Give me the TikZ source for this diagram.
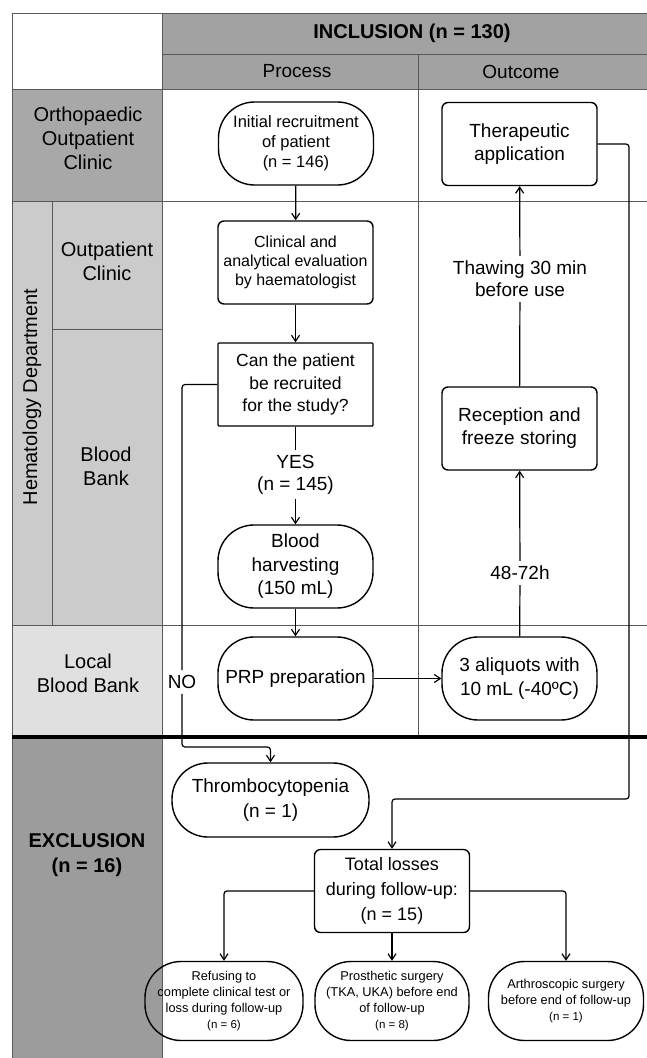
\documentclass[tikz,border=0pt]{standalone}
\usepackage{fontspec}
\setmainfont{Liberation Sans}
\usetikzlibrary{arrows.meta}

\definecolor{headgray}{HTML}{A2A2A2}
\definecolor{orthogray}{HTML}{A8A8A8}
\definecolor{hemagray}{HTML}{CBCBCB}
\definecolor{localgray}{HTML}{E0E0E0}
\definecolor{exclgray}{HTML}{9C9C9C}
\definecolor{gridgray}{HTML}{5A5A5A}

\newcommand{\fs}[2]{\fontsize{#1}{#2}\selectfont}

\begin{document}
\begin{tikzpicture}[x=1pt, y=-1pt,
    >={Straight Barb[length=6pt,width=8pt]},
    pill/.style = {draw, line width=1.4pt, rounded corners=36pt, minimum width=155pt,
                   minimum height=83pt, align=center, inner sep=2pt, font=\fs{19}{23.5}},
    card/.style = {draw, line width=1.4pt, rounded corners=6pt, minimum width=155pt,
                   minimum height=83pt, align=center, inner sep=2pt, font=\fs{19}{23}},
    note/.style = {align=center, inner sep=5pt, font=\fs{19}{22}},
    lane/.style = {align=center, font=\fs{20}{24}},
    grid/.style = {draw=gridgray, line width=0.8pt},
    link/.style = {line width=1.2pt, rounded corners=3pt}]
        \useasboundingbox (0,0) rectangle (647,1058);
        \fill[white] (0,0) rectangle (647,1058);
        % lanes
        \fill[headgray] (162,13) rectangle (647,89);
        \fill[orthogray] (12,89) rectangle (162,201);
        \fill[hemagray] (12,201) rectangle (162,625);
        \fill[localgray] (12,625) rectangle (162,737);
        \fill[exclgray] (12,737) rectangle (162,1058);
        \draw[grid] (12,13) -- (647,13);
        \draw[grid] (162,54) -- (647,54);
        \draw[grid] (12,89) -- (647,89);
        \draw[grid] (12,201) -- (647,201);
        \draw[grid] (52,329) -- (162,329);
        \draw[grid] (12,625) -- (647,625);
        \draw[grid] (12,13) -- (12,1058);
        \draw[grid] (52,201) -- (52,625);
        \draw[grid] (162,13) -- (162,1058);
        \draw[grid] (418,54) -- (418,737);
        \draw[line width=4pt] (12,737) -- (647,737);
        %
        \node[lane, font=\bfseries\fs{20}{24}] (inclusion) at (412,33.5) {INCLUSION (n = 130)};
        \node[lane, font=\fs{19}{23}] (process) at (297,71.5) {Process};
        \node[lane, font=\fs{19}{23}] (outcome) at (521,71.5) {Outcome};
        \node[lane] (ortho) at (88,138) {Orthopaedic\\Outpatient\\Clinic};
        \node[lane, rotate=90] (hema) at (32,397) {Hematology Department};
        \node[lane] (outpatient) at (107,261.5) {Outpatient\\Clinic};
        \node[lane] (bank) at (106,466) {Blood\\Bank};
        \node[lane] (local) at (88,673) {Local\\Blood Bank};
        \node[lane, font=\bfseries\fs{20}{25}] (exclusion) at (87,855) {EXCLUSION\\(n = 16)};
        %
        \node[pill, font=\fs{16.5}{20}] (recruit) at (296,143.5) {Initial recruitment\\of patient\\(n = 146)};
        \node[card] (therapy) at (519.5,144) {Therapeutic\\application};
        \node[card, font=\fs{16}{19}] (evaluation) at (295.5,262.5) {Clinical and\\analytical evaluation\\by haematologist};
        \node[card, rounded corners=1pt, font=\fs{17.5}{22.5}] (decision) at (295.5,384.5) {Can the patient\\be recruited\\for the study?};
        \node[card] (freezing) at (519.5,428.5) {Reception and\\freeze storing};
        \node[note] (thawing) at (520,279) {Thawing 30 min\\before use};
        \node[note] (yes) at (295.5,474.5) {YES\\(n = 145)};
        \node[pill] (harvest) at (295.5,566.5) {Blood\\harvesting\\(150 mL)};
        \node[pill] (prp) at (295.5,678.5) {PRP preparation};
        \node[pill] (aliquots) at (519.5,678.5) {3 aliquots with\\10 mL (-40ºC)};
        \node[note] (hours) at (520,573) {48-72h};
        \node[note] (no) at (182,682) {NO};
        \node[pill, minimum width=197pt, minimum height=74pt, font=\fs{19}{25}] (thrombo) at (270.5,800) {Thrombocytopenia\\(n = 1)};
        \node[card, font=\fs{18}{25}] (losses) at (392,891) {Total losses\\during follow-up:\\(n = 15)};
        \node[pill, minimum width=158pt, minimum height=79pt, font=\fs{12.8}{16.3}] (refusal) at (224,1001) {Refusing to\\complete clinical test or\\loss during follow-up\\{\fs{11.5}{16.3}(n = 6)}};
        \node[pill, minimum width=154pt, minimum height=79pt, font=\fs{12.8}{16.3}] (prosthesis) at (392,1001) {Prosthetic surgery\\(TKA, UKA) before end\\of follow-up\\{\fs{11.5}{16.3}(n = 8)}};
        \node[pill, minimum width=155pt, minimum height=79pt, font=\fs{12.8}{16.3}] (arthroscopy) at (566,1001) {Arthroscopic surgery\\before end of follow-up\\{\fs{11.5}{16.3}(n = 1)}};
        \coordinate (nobend) at (182,747);
        \coordinate (loopR) at (629,144);
        \coordinate (loopB) at (629,799);
        %
        \draw[link,->] (recruit) -- (evaluation);
        \draw[link,->] (evaluation) -- (decision);
        \draw[link] (decision) -- (yes);
        \draw[link,->] (yes) -- (harvest);
        \draw[link,->] (harvest) -- (prp);
        \draw[link,->] (prp) -- (aliquots);
        \draw[link] (aliquots) -- (hours);
        \draw[link,->] (hours) -- (freezing);
        \draw[link] (freezing) -- (thawing);
        \draw[link,->] (thawing) -- (therapy);
        \draw[link] (decision.west) -| (no);
        \draw[link,->] (no) -- (nobend) -| (thrombo);
        \draw[link,->] (therapy) -- (loopR) -- (loopB) -| (losses);
        \draw[link,->] (losses) -| (refusal);
        \draw[link,->] (losses) -- (prosthesis);
        \draw[link,->] (losses) -| (arthroscopy);
      \end{tikzpicture}
\end{document}
